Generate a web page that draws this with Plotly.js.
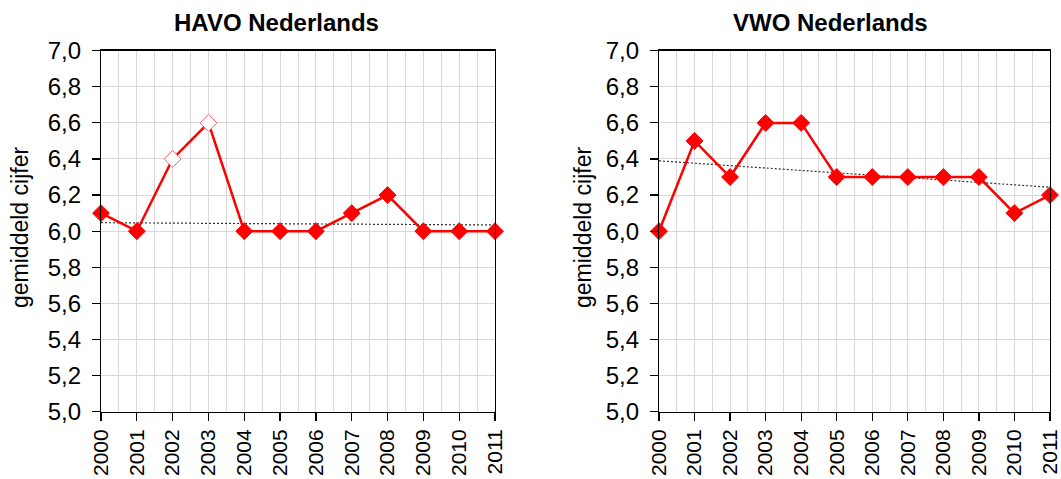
<!DOCTYPE html>
<html>
<head>
<meta charset="utf-8">
<script src="https://cdn.plot.ly/plotly-3.0.1.min.js"></script>
<style>html,body{margin:0;padding:0;background:#fff;}#chart{width:1061px;height:479px;}</style>
</head>
<body>
<div id="chart"></div>
<script>
const years = [2000,2001,2002,2003,2004,2005,2006,2007,2008,2009,2010,2011];
const havoValues = [6.1,6.0,6.4,6.6,6.0,6.0,6.0,6.1,6.2,6.0,6.0,6.0];
const havoOpen = [false,false,true,true,false,false,false,false,false,false,false,false];
const vwoValues = [6.0,6.5,6.3,6.6,6.6,6.3,6.3,6.3,6.3,6.3,6.1,6.2];
const vwoOpen = [false,false,false,false,false,false,false,false,false,false,false,false];
const titles = ["HAVO Nederlands","VWO Nederlands"];
const yTitle = "gemiddeld cijfer";

function fit(xs, ys, skip){
  const px=[],py=[];
  xs.forEach((x,i)=>{ if(!skip[i]){px.push(x);py.push(ys[i]);} });
  const n=px.length, mx=px.reduce((a,b)=>a+b)/n, my=py.reduce((a,b)=>a+b)/n;
  let sxy=0,sxx=0;
  for(let i=0;i<n;i++){sxy+=(px[i]-mx)*(py[i]-my);sxx+=(px[i]-mx)**2;}
  const b=sxy/sxx, a=my-b*mx;
  return [a+b*xs[0], a+b*xs[xs.length-1]];
}

const RED='#ff0000';
function series(vals, open, xa, ya){
  return {
    x: years, y: vals, xaxis: xa, yaxis: ya, type:'scatter', mode:'lines+markers',
    cliponaxis:false, showlegend:false,
    line:{color:RED,width:2.5},
    marker:{symbol:'diamond', size:13,
      color: open.map(o=>o?'#ffffff':RED),
      line:{color: open.map(o=>o?'#ff6666':RED), width:1}}
  };
}
function trend(vals, open, xa, ya){
  return {
    x:[years[0],years[years.length-1]], y: fit(years, vals, open), xaxis:xa, yaxis:ya,
    type:'scatter', mode:'lines', showlegend:false, cliponaxis:false,
    line:{color:'#333333', width:1.2, dash:'2px,2px'}
  };
}

const data = [
  trend(havoValues, havoOpen, 'x','y'),
  series(havoValues, havoOpen, 'x','y'),
  trend(vwoValues, vwoOpen, 'x2','y2'),
  series(vwoValues, vwoOpen, 'x2','y2')
];

const font = {family:'"Liberation Sans", Arial, sans-serif', color:'#000'};
function xAxis(domain, anchor){
  return {domain, anchor, range:[2000,2011], dtick:1, tick0:2000,
    showgrid:true, gridcolor:'#d9d9d9', gridwidth:1,
    minor:{dtick:0.5, tick0:2000, showgrid:true, gridcolor:'#d9d9d9', gridwidth:1, ticks:''},
    showline:true, linecolor:'#000', linewidth:1.2, mirror:true,
    ticks:'outside', ticklen:8, tickcolor:'#000', tickwidth:1.2,
    tickangle:-90, tickfont:Object.assign({size:21},font), ticklabelstandoff:0,
    ticklabeloverflow:'allow',
    zeroline:false, fixedrange:true};
}
function yAxis(anchor){
  return {domain:[0.1405,0.8942], anchor, range:[5,7], dtick:0.2, tick0:5,
    tickformat:'.1f',
    showgrid:true, gridcolor:'#d9d9d9', gridwidth:1,
    showline:true, linecolor:'#000', linewidth:1.2, mirror:true,
    ticks:'outside', ticklen:8, tickcolor:'#000', tickwidth:1.2,
    tickfont:Object.assign({size:24},font), ticklabelstandoff:6,
    zeroline:false, fixedrange:true};
}

const layout = {
  width:1061, height:479, margin:{l:0,r:0,t:0,b:0},
  paper_bgcolor:'#fff', plot_bgcolor:'#fff',
  separators:',.',
  font: font,
  xaxis: xAxis([101/1061, 495/1061],'y'),
  yaxis: yAxis('x'),
  xaxis2: xAxis([659/1061, 1050/1061],'y2'),
  yaxis2: yAxis('x2'),
  annotations:[
    {text:'<b>'+titles[0]+'</b>', xref:'paper', yref:'paper', x:276/1061, y:1-23/479, showarrow:false, xanchor:'center', yanchor:'middle', font:Object.assign({size:24},font)},
    {text:'<b>'+titles[1]+'</b>', xref:'paper', yref:'paper', x:830/1061, y:1-23/479, showarrow:false, xanchor:'center', yanchor:'middle', font:Object.assign({size:24},font)},
    {text:yTitle, xref:'paper', yref:'paper', x:20/1061, y:1-228/479, textangle:-90, showarrow:false, xanchor:'center', yanchor:'middle', font:Object.assign({size:23},font)},
    {text:yTitle, xref:'paper', yref:'paper', x:583/1061, y:1-228/479, textangle:-90, showarrow:false, xanchor:'center', yanchor:'middle', font:Object.assign({size:23},font)}
  ]
};

Plotly.newPlot('chart', data, layout, {staticPlot:true, displayModeBar:false});
</script>
</body>
</html>
